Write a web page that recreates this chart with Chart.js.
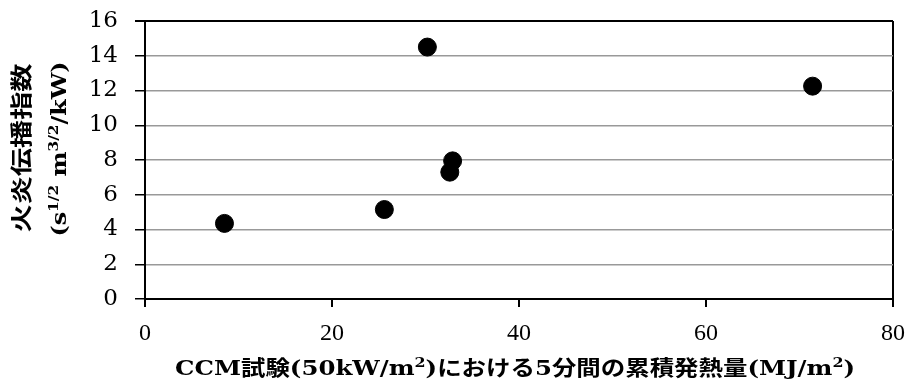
<!DOCTYPE html>
<html>
<head>
<meta charset="utf-8">
<script src="https://cdn.jsdelivr.net/npm/chart.js@4"></script>
<style>
  body { margin: 0; background: #fff; }
  #wrap { width: 910px; height: 387px; }
</style>
</head>
<body>
<div id="wrap"><canvas id="scatter"></canvas></div>
<script>
// cumulative heat release in 5 min (MJ/m2) vs flame spread index
var heatRelease = [8.5, 25.6, 30.2, 32.6, 32.9, 71.4];
var spreadIndex = [4.35, 5.15, 14.5, 7.3, 7.95, 12.25];
var xTicks = [0, 20, 40, 60, 80];
var yTicks = [0, 2, 4, 6, 8, 10, 12, 14, 16];

var points = heatRelease.map(function (x, i) {
  return { x: x, y: spreadIndex[i] };
});

var serif = '"Liberation Serif", serif';
var titleFont = '"DejaVu Serif", "Noto Sans CJK JP", serif';

// draw text made of parts (some raised as superscripts), centred on x,y and
// stretched to the given width
function drawParts(ctx, parts, x, y, size, width) {
  var total = 0;
  parts.forEach(function (p) {
    ctx.font = 'bold ' + (p.sup ? size * 0.65 : size) + 'px ' + titleFont;
    p.w = ctx.measureText(p.t).width;
    total += p.w;
  });
  ctx.save();
  ctx.translate(x, y);
  ctx.scale(width / total, 1);
  var cx = -total / 2;
  parts.forEach(function (p) {
    ctx.font = 'bold ' + (p.sup ? size * 0.65 : size) + 'px ' + titleFont;
    ctx.fillText(p.t, cx, p.sup ? -size * 0.33 : 0);
    cx += p.w;
  });
  ctx.restore();
}

var axisTitles = {
  id: 'axisTitles',
  afterDraw: function (chart) {
    var ctx = chart.ctx;
    ctx.save();
    ctx.fillStyle = '#000';
    ctx.textBaseline = 'middle';
    ctx.textAlign = 'left';
    drawParts(ctx, [{ t: 'CCM試験(50kW/m' }, { t: '2', sup: true }, { t: ')における5分間の累積発熱量(MJ/m' }, { t: '2', sup: true }, { t: ')' }], 515, 370, 21, 680);

    ctx.translate(0, 148);
    ctx.rotate(-Math.PI / 2);
    drawParts(ctx, [{ t: '火炎伝播指数' }], 0, 23, 22, 169);
    drawParts(ctx, [{ t: '(s' }, { t: '1/2', sup: true }, { t: ' m' }, { t: '3/2', sup: true }, { t: '/kW)' }], -1, 61, 21, 175);
    ctx.restore();
  }
};

new Chart(document.getElementById('scatter'), {
  type: 'scatter',
  data: {
    datasets: [{
      data: points,
      backgroundColor: '#000',
      borderColor: '#000',
      pointRadius: 9,
      pointHoverRadius: 9
    }]
  },
  plugins: [axisTitles],
  options: {
    responsive: true,
    maintainAspectRatio: false,
    animation: false,
    layout: { padding: { left: 0, right: 17, top: 21, bottom: 0 } },
    plugins: { legend: { display: false }, tooltip: { enabled: false } },
    scales: {
      x: {
        type: 'linear',
        min: 0,
        max: 80,
        afterBuildTicks: function (s) { s.ticks = xTicks.map(function (v) { return { value: v }; }); },
        afterFit: function (s) { s.height = 88; s.paddingLeft = 0; s.paddingRight = 0; },
        border: { color: '#000', width: 2 },
        grid: {
          drawOnChartArea: true,
          color: function (c) { return c.tick && c.tick.value === 80 ? '#000' : 'rgba(0,0,0,0)'; },
          lineWidth: 2,
          tickColor: '#000',
          tickLength: 8
        },
        ticks: { color: '#000', font: { family: serif, size: 24 }, padding: 12, maxRotation: 0 }
      },
      y: {
        type: 'linear',
        min: 0,
        max: 16,
        afterBuildTicks: function (s) { s.ticks = yTicks.map(function (v) { return { value: v }; }); },
        afterFit: function (s) { s.width = 145; s.paddingTop = 0; s.paddingBottom = 0; },
        border: { color: '#000', width: 2 },
        grid: {
          color: function (c) { return c.tick && c.tick.value === 16 ? '#000' : '#999'; },
          lineWidth: function (c) { return c.tick && c.tick.value === 16 ? 2 : 1.5; },
          tickColor: '#000',
          tickLength: 10
        },
        ticks: { color: '#000', font: { family: '"DejaVu Serif", serif', size: 23 }, padding: 17 }
      }
    }
  }
});
</script>
</body>
</html>
